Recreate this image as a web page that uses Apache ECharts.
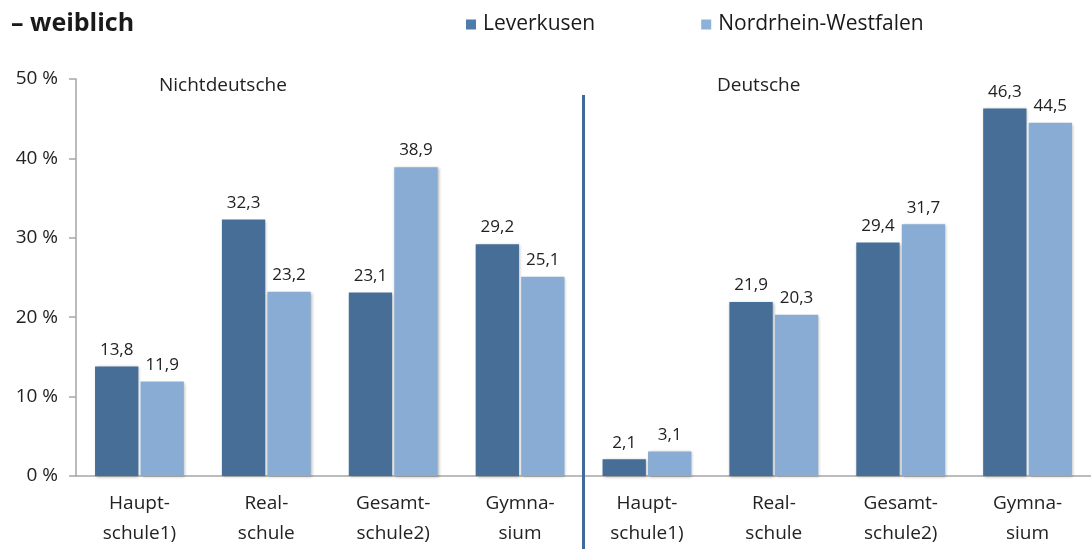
<!DOCTYPE html>
<html>
<head>
<meta charset="utf-8">
<script src="https://cdn.jsdelivr.net/npm/echarts@6/dist/echarts.min.js"></script>
<style>
  html, body { margin: 0; padding: 0; background: #fff; }
  #chart { width: 1091px; height: 549px; }
</style>
</head>
<body>
<div id="chart"></div>
<script>
// Schulformen, je Gruppe (Nichtdeutsche | Deutsche)
const categories = [
  'Haupt-\nschule1)', 'Real-\nschule', 'Gesamt-\nschule2)', 'Gymna-\nsium',
  'Haupt-\nschule1)', 'Real-\nschule', 'Gesamt-\nschule2)', 'Gymna-\nsium'
];
const leverkusen = [13.8, 32.3, 23.1, 29.2, 2.1, 21.9, 29.4, 46.3];
const nrw = [11.9, 23.2, 38.9, 25.1, 3.1, 20.3, 31.7, 44.5];
const yTicks = [0, 10, 20, 30, 40, 50];

const font = '"Open Sans", "Liberation Sans", sans-serif';
const fmt = p => String(p.value).replace('.', ',');

let myChart = echarts.init(document.getElementById('chart'));

function barSeries(name, data, color) {
  return {
    name: name,
    type: 'bar',
    data: data,
    barGap: '5%',
    barCategoryGap: '30%',
    itemStyle: {
      color: color,
      shadowColor: 'rgba(0, 0, 0, 0.3)',
      shadowBlur: 3,
      shadowOffsetX: 1,
      shadowOffsetY: 1,
    },
    label: {
      show: true,
      position: 'top',
      distance: 8,
      formatter: fmt,
      fontFamily: font,
      fontSize: 17,
      color: '#222',
    },
  };
}

let option = {
  animation: false,
  textStyle: { fontFamily: font },
  title: {
    text: '– weiblich',
    left: 6,
    top: 6,
    textStyle: { fontFamily: font, fontSize: 25, fontWeight: 'bold', color: '#1a1a1a' },
  },
  legend: {
    left: 461,
    top: 9,
    itemWidth: 10,
    itemHeight: 10,
    itemGap: 106,
    icon: 'rect',
    textStyle: { fontFamily: font, fontSize: 21, color: '#1a1a1a', padding: [0, 0, 0, 2] },
    data: [
      { name: 'Leverkusen', itemStyle: { color: '#4f7bab' } },
      { name: 'Nordrhein-Westfalen', itemStyle: { color: '#8db1d8' } },
    ],
  },
  grid: {
    left: 76,
    top: 79,
    width: 1024,
    height: 401,
  },
  xAxis: {
    type: 'category',
    data: categories,
    axisLine: { lineStyle: { color: '#a6a6a6', width: 1.5 } },
    axisTick: { length: 8, lineStyle: { color: '#a6a6a6', width: 1.5 } },
    axisLabel: {
      interval: 0,
      margin: 13,
      fontFamily: font,
      fontSize: 19,
      lineHeight: 30,
      color: '#222',
    },
  },
  yAxis: {
    type: 'value',
    min: yTicks[0],
    max: yTicks[yTicks.length - 1],
    interval: 10,
    splitLine: { show: false },
    axisLine: { show: true, lineStyle: { color: '#a6a6a6', width: 1.5 } },
    axisTick: { show: true, length: 7, lineStyle: { color: '#a6a6a6', width: 1.5 } },
    axisLabel: {
      formatter: '{value} %',
      margin: 18,
      fontFamily: font,
      fontSize: 19,
      color: '#222',
    },
  },
  series: [
    barSeries('Leverkusen', leverkusen, '#466e97'),
    barSeries('Nordrhein-Westfalen', nrw, '#88acd3'),
  ],
};

myChart.setOption(option);

// Trennlinie zwischen den Gruppen und Gruppentitel
let x3 = myChart.convertToPixel({ xAxisIndex: 0 }, 3);
let x4 = myChart.convertToPixel({ xAxisIndex: 0 }, 4);
let divX = (x3 + x4) / 2;
myChart.setOption({
  graphic: [
    {
      type: 'line',
      shape: { x1: divX, y1: 95, x2: divX, y2: 549 },
      style: { stroke: '#3f6a9a', lineWidth: 3 },
      z: 10,
    },
    {
      type: 'text',
      left: 159,
      top: 76,
      style: { text: 'Nichtdeutsche', font: '19px ' + font, fill: '#222' },
    },
    {
      type: 'text',
      left: 717,
      top: 76,
      style: { text: 'Deutsche', font: '19px ' + font, fill: '#222' },
    },
  ],
});
</script>
</body>
</html>
